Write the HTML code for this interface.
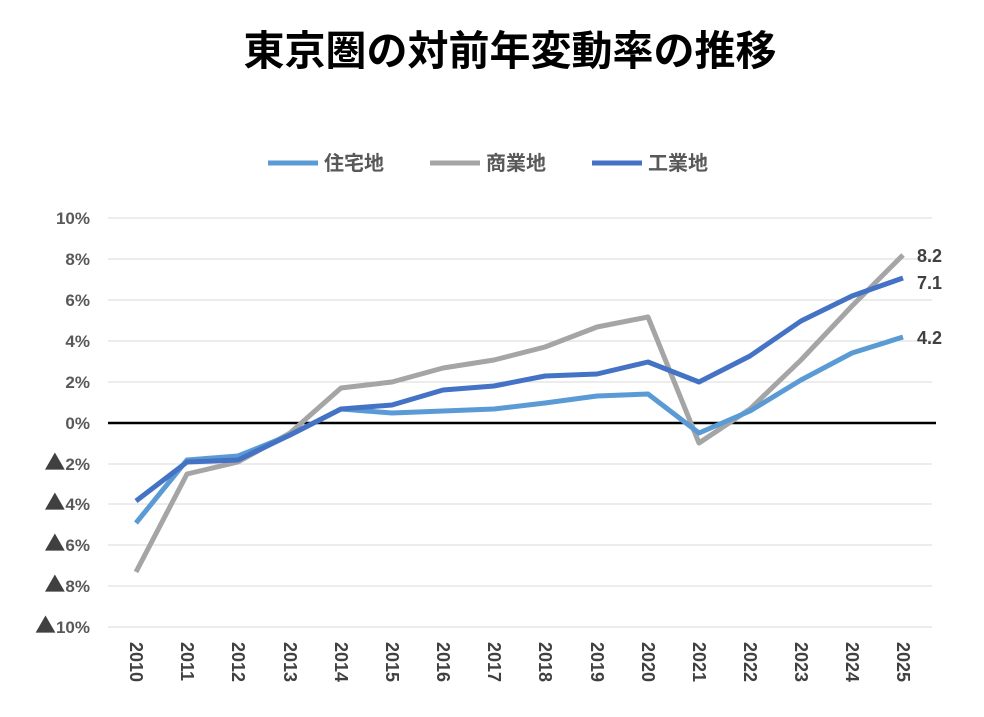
<!DOCTYPE html>
<html><head><meta charset="utf-8"><style>
body{margin:0;background:#fff;}
svg text{font-family:"Liberation Sans","Noto Sans CJK JP",sans-serif;}
.tri{font-family:"Noto Sans CJK JP",sans-serif;font-size:21px;}
</style></head><body>
<svg width="984" height="712" xmlns="http://www.w3.org/2000/svg">
<rect width="984" height="712" fill="#fff"/>
<text x="510" y="65" text-anchor="middle" font-size="41" font-weight="bold" fill="#000" style="font-family:'Noto Sans CJK JP',sans-serif">東京圏の対前年変動率の推移</text>
<g font-size="20" font-weight="bold" fill="#595959">
<line x1="268" y1="163" x2="318" y2="163" stroke="#5B9BD5" stroke-width="5"/>
<text x="324" y="170">住宅地</text>
<line x1="430" y1="163" x2="480" y2="163" stroke="#A5A5A5" stroke-width="5"/>
<text x="486" y="170">商業地</text>
<line x1="592" y1="163" x2="642" y2="163" stroke="#4472C4" stroke-width="5"/>
<text x="648" y="170">工業地</text>
</g>
<g stroke="#d9d9d9" stroke-width="1">
<line x1="108" x2="932" y1="218" y2="218"/><line x1="108" x2="932" y1="259" y2="259"/>
<line x1="108" x2="932" y1="300" y2="300"/><line x1="108" x2="932" y1="341" y2="341"/>
<line x1="108" x2="932" y1="382" y2="382"/><line x1="108" x2="932" y1="464" y2="464"/>
<line x1="108" x2="932" y1="504" y2="504"/><line x1="108" x2="932" y1="545" y2="545"/>
<line x1="108" x2="932" y1="586" y2="586"/><line x1="108" x2="932" y1="627" y2="627"/>
</g>
<line x1="108" x2="936" y1="423" y2="423" stroke="#000" stroke-width="2.5"/>
<g font-size="17" font-weight="bold" fill="#595959" text-anchor="end">
<text x="90" y="224">10%</text><text x="90" y="265">8%</text><text x="90" y="306">6%</text>
<text x="90" y="347">4%</text><text x="90" y="388">2%</text><text x="90" y="429">0%</text>
<text x="90" y="470"><tspan class="tri" fill="#404040">▲</tspan>2%</text>
<text x="90" y="510"><tspan class="tri" fill="#404040">▲</tspan>4%</text>
<text x="90" y="551"><tspan class="tri" fill="#404040">▲</tspan>6%</text>
<text x="90" y="592"><tspan class="tri" fill="#404040">▲</tspan>8%</text>
<text x="90" y="633"><tspan class="tri" fill="#404040">▲</tspan>10%</text>
</g>
<g font-size="18" font-weight="bold" fill="#404040">
<text transform="translate(130,642) rotate(90)">2010</text>
<text transform="translate(181,642) rotate(90)">2011</text>
<text transform="translate(232,642) rotate(90)">2012</text>
<text transform="translate(284,642) rotate(90)">2013</text>
<text transform="translate(335,642) rotate(90)">2014</text>
<text transform="translate(386,642) rotate(90)">2015</text>
<text transform="translate(437,642) rotate(90)">2016</text>
<text transform="translate(488,642) rotate(90)">2017</text>
<text transform="translate(539,642) rotate(90)">2018</text>
<text transform="translate(591,642) rotate(90)">2019</text>
<text transform="translate(642,642) rotate(90)">2020</text>
<text transform="translate(693,642) rotate(90)">2021</text>
<text transform="translate(744,642) rotate(90)">2022</text>
<text transform="translate(795,642) rotate(90)">2023</text>
<text transform="translate(846,642) rotate(90)">2024</text>
<text transform="translate(897,642) rotate(90)">2025</text>
</g>
<g fill="none" stroke-width="5" stroke-linejoin="round">
<polyline stroke="#A5A5A5" points="136,572 187,474 238,462 290,433 341,388 392,382 443,368 494,360 545,347 597,327 648,317 699,443 750,409 801,360 852,306 903,255"/>
<polyline stroke="#5B9BD5" points="136,523 187,460 238,456 290,435 341,409 392,413 443,411 494,409 545,403 597,396 648,394 699,433 750,411 801,380 852,353 903,337"/>
<polyline stroke="#4472C4" points="136,501 187,462 238,460 290,435 341,409 392,405 443,390 494,386 545,376 597,374 648,362 699,382 750,356 801,321 852,296 903,278"/>
</g>
<g font-size="18" font-weight="bold" fill="#404040">
<text x="917" y="262">8.2</text>
<text x="917" y="289">7.1</text>
<text x="917" y="344">4.2</text>
</g>
</svg>
</body></html>
